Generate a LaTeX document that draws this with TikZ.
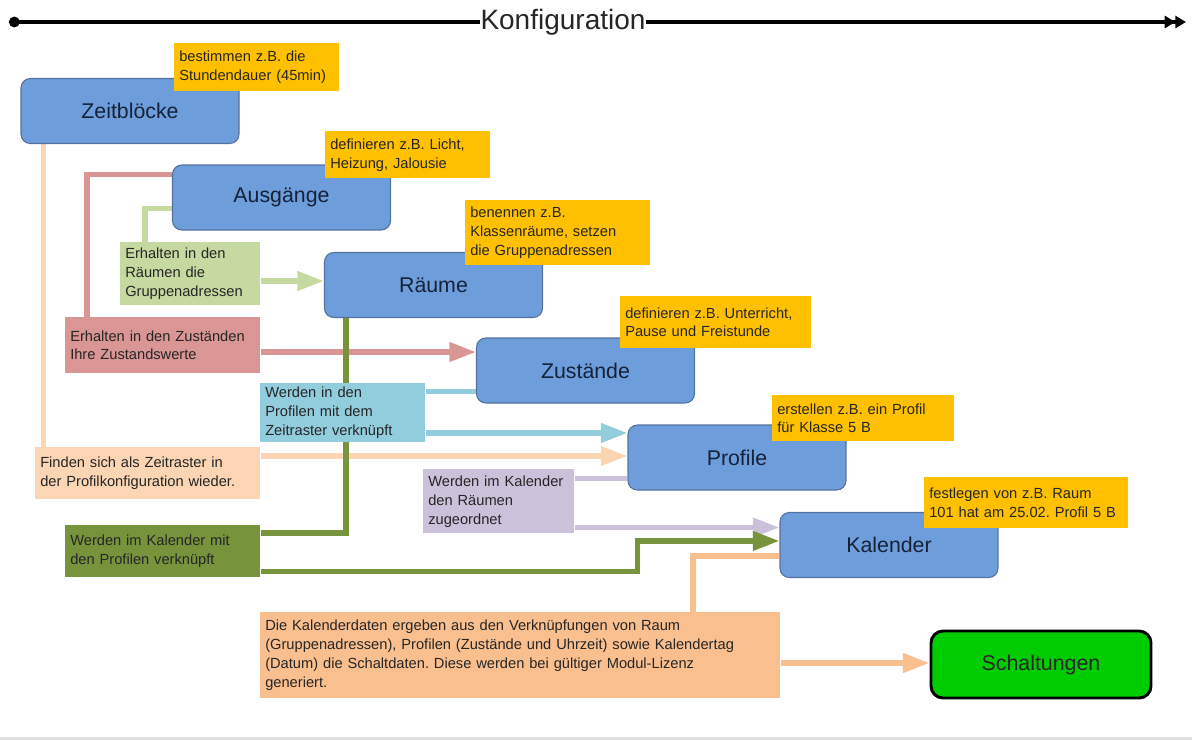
\documentclass[tikz,border=0pt]{standalone}
\usepackage{fontspec}
\setmainfont{Liberation Sans}
\usetikzlibrary{arrows.meta,backgrounds}
\newlength{\pxu}\setlength{\pxu}{0.75pt}
\frenchspacing
\definecolor{blkfill}{RGB}{110,157,220}
\definecolor{blkline}{RGB}{84,114,160}
\definecolor{blktext}{RGB}{22,34,56}
\definecolor{noteyellow}{RGB}{255,192,0}
\definecolor{lgreen}{RGB}{198,217,160}
\definecolor{lred}{RGB}{218,150,148}
\definecolor{lcyan}{RGB}{146,205,221}
\definecolor{lpeach}{RGB}{252,213,181}
\definecolor{lpurple}{RGB}{204,193,218}
\definecolor{lolive}{RGB}{119,147,60}
\definecolor{lorange}{RGB}{250,191,143}
\definecolor{schaltgreen}{RGB}{0,204,0}
\tikzset{
  blk/.style = {rectangle, rounded corners=7pt, draw=blkline, line width=0.8pt,
    fill=blkfill, text=blktext, minimum width=218\pxu, minimum height=65\pxu,
    font=\fontsize{16}{19}\selectfont},
  note/.style = {rectangle, fill=noteyellow, anchor=north west, align=left,
    inner xsep=5\pxu, inner ysep=0pt, text=black!85,
    font=\fontsize{11}{14.2}\selectfont},
  lbl/.style = {note, fill=#1},
  link/.style = {line width=4pt, draw=#1},
  conn/.style = {link=#1, -{Triangle[length=20pt,width=14pt,fill=#1]}},
  timeline/.style = {line width=2.4pt, black}
}
\tikzset{>=Triangle}

\begin{document}
\begin{tikzpicture}[x=1\pxu,y=-1\pxu]
  \useasboundingbox (0,0) rectangle (1192,740);
  % time line
  \coordinate (tlStart) at (9,22);
  \coordinate (tlEnd) at (1186,22);
  \node[fill=white,inner sep=0pt,font=\fontsize{21}{24}\selectfont,text=black!85] (konf) at (563,22) {Konfiguration};
  \draw[timeline,{Circle[length=8pt]}-] (tlStart) -- (konf.west);
  \draw[timeline,-{Triangle[length=8pt,width=9pt]Triangle[length=8pt,width=9pt]}] (konf.east) -- (tlEnd);
  \coordinate (rlStart) at (0,738.5);
  \coordinate (rlEnd) at (1192,738.5);
  \draw[black!12,line width=1.6pt] (rlStart) -- (rlEnd);
  % blocks
  \node[blk] (zeit) at (130,111) {Zeitblöcke};
  \node[blk] (ausg) at (281.5,197.5) {Ausgänge};
  \node[blk] (raum) at (433.5,285) {Räume};
  \node[blk] (zust) at (585.5,370.5) {Zustände};
  \node[blk] (prof) at (737,457.5) {Profile};
  \node[blk] (kal) at (889,545) {Kalender};
  \node[blk,fill=schaltgreen,draw=black,line width=2.2pt,rounded corners=9pt,
        minimum width=220\pxu,minimum height=67\pxu,text=black!85] (schalt) at (1041,664.5) {Schaltungen};
  % notes
  \node[note,text width=155\pxu,minimum height=48\pxu] (nZeit) at (174,43) {bestimmen z.B. die\\Stundendauer (45min)};
  \node[note,text width=155\pxu,minimum height=47\pxu] (nAusg) at (325,131) {definieren z.B. Licht,\\Heizung, Jalousie};
  \node[note,text width=175\pxu,minimum height=65\pxu] (nRaum) at (465,200) {benennen z.B.\\Klassenräume, setzen\\die Gruppenadressen};
  \node[note,text width=181\pxu,minimum height=52\pxu] (nZust) at (620,296) {definieren z.B. Unterricht,\\Pause und Freistunde};
  \node[note,text width=172\pxu,minimum height=46\pxu] (nProf) at (772,395) {erstellen z.B. ein Profil\\für Klasse 5 B};
  \node[note,text width=194\pxu,minimum height=51\pxu] (nKal) at (924,477) {festlegen von z.B. Raum\\101 hat am 25.02. Profil 5 B};
  % labels
  \node[lbl=lgreen,text width=130\pxu,minimum height=63\pxu] (lbRaum) at (120,242) {Erhalten in den\\Räumen die\\Gruppenadressen};
  \node[lbl=lred,text width=185\pxu,minimum height=56\pxu] (lbZust) at (65,317) {Erhalten in den Zuständen\\Ihre Zustandswerte};
  \node[lbl=lcyan,text width=155\pxu,minimum height=59\pxu] (lbProf) at (260,383) {Werden in den\\Profilen mit dem\\Zeitraster verknüpft};
  \node[lbl=lpeach,text width=215\pxu,minimum height=52\pxu] (lbZeit) at (35,447) {Finden sich als Zeitraster in\\der Profilkonfiguration wieder.};
  \node[lbl=lpurple,text width=141\pxu,minimum height=64\pxu] (lbKal) at (423,469) {Werden im Kalender\\den Räumen\\zugeordnet};
  \node[lbl=lolive,text width=185\pxu,minimum height=52\pxu] (lbKalProf) at (65,525) {Werden im Kalender mit\\den Profilen verknüpft};
  \node[lbl=lorange,text width=510\pxu,minimum height=86\pxu] (lbSchalt) at (260,612) {Die Kalenderdaten ergeben aus den Verknüpfungen von Raum\\(Gruppenadressen), Profilen (Zustände und Uhrzeit) sowie Kalendertag\\(Datum) die Schaltdaten. Diese werden bei gültiger Modul-Lizenz\\generiert.};
  % connectors
  \begin{scope}[on background layer]
    \draw[link=lpeach] ([xshift=23\pxu]zeit.south west) -- ([xshift=23\pxu]zeit.south west |- lbZeit.north);
    \draw[conn=lpeach] ([yshift=-9\pxu]lbZeit.north east) -- ([yshift=-9\pxu]lbZeit.north east -| prof.west);
    \draw[link=lred] ([yshift=-10\pxu]ausg.north west) -| ([xshift=22\pxu]lbZust.north west);
    \draw[conn=lred] ([yshift=-35\pxu]lbZust.north east) -- ([yshift=-35\pxu]lbZust.north east -| zust.west);
    \draw[link=lgreen] ([yshift=22\pxu]ausg.south west) -| ([xshift=25\pxu]lbRaum.north west);
    \draw[conn=lgreen] ([yshift=-39\pxu]lbRaum.north east) -- ([yshift=-39\pxu]lbRaum.north east -| raum.west);
    \draw[link=lcyan] ([yshift=12\pxu]zust.south west) -- ([yshift=12\pxu]zust.south west -| lbProf.east);
    \draw[conn=lcyan] ([yshift=-50\pxu]lbProf.north east) -- ([yshift=-50\pxu]lbProf.north east -| prof.west);
    \draw[link=lpurple] ([yshift=12\pxu]prof.south west) -- ([yshift=12\pxu]prof.south west -| lbKal.east);
    \draw[conn=lpurple] ([yshift=6\pxu]lbKal.south east) -- ([yshift=6\pxu]lbKal.south east -| kal.west);
    \draw[link=lolive] ([xshift=22\pxu]raum.south west) |- ([yshift=-8\pxu]lbKalProf.north east);
    \draw[conn=lolive] ([yshift=6\pxu]lbKalProf.south east) -- ++(377,0) |- ([yshift=-29\pxu]kal.north west);
    \draw[link=lorange] ([yshift=22\pxu]kal.south west) -| ([xshift=433\pxu]lbSchalt.north west);
    \draw[conn=lorange] ([yshift=-51\pxu]lbSchalt.north east) -- ([yshift=-51\pxu]lbSchalt.north east -| schalt.west);
  \end{scope}
\end{tikzpicture}
\end{document}
